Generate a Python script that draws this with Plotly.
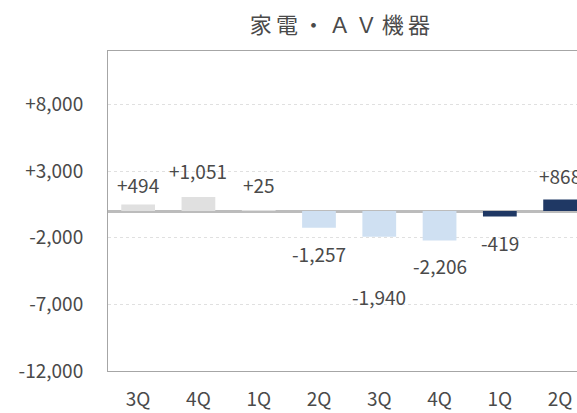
import plotly.graph_objects as go

# Quarter labels and year-on-year change values
quarters = ["3Q", "4Q", "1Q", "2Q", "3Q", "4Q", "1Q", "2Q"]
changes = [494, 1051, 25, -1257, -1940, -2206, -419, 868]
y_ticks = [-12000, -7000, -2000, 3000, 8000]
y_tick_text = ["-12,000", "-7,000", "-2,000", "+3,000", "+8,000"]

# Styling
FONT = "Noto Sans CJK JP"
TEXT = "#4a4a4a"
GRAY, LIGHT_BLUE, NAVY = "#e0e0e0", "#cfe0f2", "#1f3864"
bar_colors = [GRAY] * 3 + [LIGHT_BLUE] * 3 + [NAVY] * 2
# pixel distance of each value label from its bar end
label_gap = [20, 26, 26, 26, 60, 25, 26, 24]

x = list(range(len(quarters)))


def fmt(v):
    return f"{v:+,}"


fig = go.Figure(
    go.Bar(
        x=x,
        y=changes,
        width=0.56,
        marker=dict(color=bar_colors, line=dict(width=0)),
        hoverinfo="skip",
    )
)

for xi, v, gap in zip(x, changes, label_gap):
    fig.add_annotation(
        x=xi, y=v, text=fmt(v), showarrow=False,
        yshift=gap if v >= 0 else -gap,
        font=dict(family=FONT, size=19, color=TEXT),
        xanchor="center", yanchor="middle",
    )

title = "\u2009".join("家電・ＡＶ機器")

fig.update_layout(
    width=577, height=413,
    margin=dict(l=108, r=0, t=51, b=42),
    paper_bgcolor="white", plot_bgcolor="white",
    showlegend=False,
    title=dict(
        text=title, x=0.589, y=1 - 25 / 413, xref="container", yref="container",
        xanchor="center", yanchor="middle",
        font=dict(family=FONT, size=22, color=TEXT),
    ),
    font=dict(family=FONT, size=19, color=TEXT),
)

fig.update_xaxes(
    range=[-0.5, 7.28],
    tickvals=x, ticktext=quarters,
    showgrid=False, zeroline=False,
    showline=True, linecolor="#a6a6a6", linewidth=1, mirror=True,
    ticks="", ticklabelstandoff=11,
    tickfont=dict(family=FONT, size=19, color=TEXT),
)

fig.update_yaxes(
    range=[-12000, 12000],
    tickvals=y_ticks, ticktext=y_tick_text,
    showgrid=True, gridcolor="#e0e0e0", griddash="dot", gridwidth=1,
    zeroline=True, zerolinecolor="#bcbcbc", zerolinewidth=3,
    showline=True, linecolor="#a6a6a6", linewidth=1,
    ticks="", ticklabelstandoff=20,
    tickfont=dict(family=FONT, size=19, color=TEXT),
)

fig.write_html("out.html")
